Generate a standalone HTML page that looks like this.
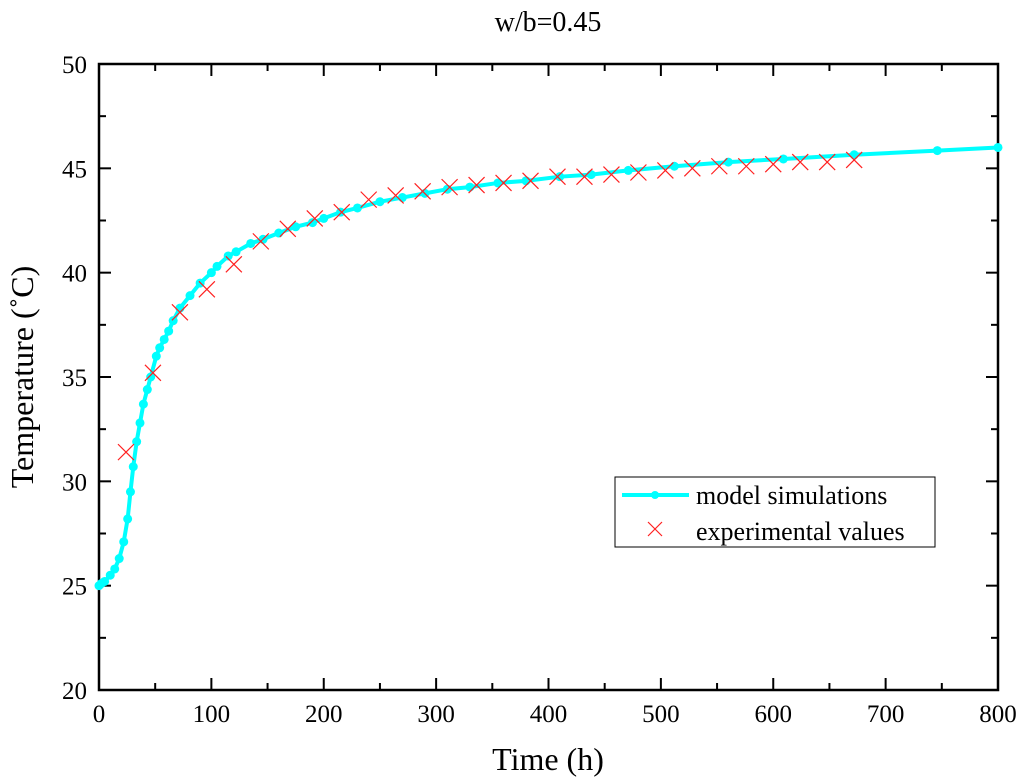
<!DOCTYPE html>
<html><head><meta charset="utf-8"><style>
body{margin:0;background:#fff}
svg{display:block;font-family:"Liberation Serif",serif}
</style></head><body>
<svg id="chart" width="1024" height="782" viewBox="0 0 1024 782">
<text x="548" y="31" font-size="28" text-anchor="middle">w/b=0.45</text>
<g id="axes"></g>
<g id="series"></g>
<g>
<rect x="615" y="477" width="320" height="70" fill="#fff" stroke="#000" stroke-width="1"/>
<g>
<line x1="622" y1="495" x2="689" y2="495" stroke="#00ffff" stroke-width="4"/>
<circle cx="655" cy="495" r="4" fill="#00ffff"/>
<text x="696" y="504" font-size="26">model simulations</text></g>
<g>
<path d="M648,522 L662,536 M662,522 L648,536" stroke="#ff2020" stroke-width="1.2"/>
<text x="696" y="540" font-size="26">experimental values</text></g>
</g>
<text x="548" y="770" font-size="32" text-anchor="middle">Time (h)</text>
<text transform="translate(33,377) rotate(-90)" font-size="32" text-anchor="middle">Temperature (˚C)</text>
</svg>
<script>
const modelTime=[0,2,5,10,14,18,22,25.5,28,30.5,33.5,36.5,39.5,43,46,51,54,58,62,66,72,81,90,100,105,115,122,135,146,160,175,190,200,215,230,250,270,290,310,330,355,380,410,438,471,512,560,609,672,746,800];
const modelTemp=[25,25.1,25.2,25.5,25.8,26.3,27.1,28.2,29.5,30.7,31.9,32.8,33.7,34.4,35.0,36.0,36.4,36.8,37.2,37.7,38.3,38.9,39.5,40.0,40.3,40.8,41.0,41.4,41.6,41.9,42.2,42.4,42.6,42.9,43.1,43.4,43.6,43.8,44.0,44.1,44.3,44.4,44.6,44.7,44.9,45.1,45.3,45.45,45.65,45.85,46.0];
const expTime=[24,48,72,96,120,144,168,192,216,240,264,288,312,336,360,384,408,432,456,480,504,528,552,576,600,624,648,672];
const expTemp=[31.4,35.2,38.1,39.2,40.4,41.5,42.1,42.6,42.9,43.5,43.7,43.9,44.1,44.2,44.3,44.4,44.6,44.6,44.7,44.8,44.9,45.0,45.1,45.1,45.2,45.3,45.3,45.4];
const xTicks=[0,100,200,300,400,500,600,700,800];
const yTicks=[20,25,30,35,40,45,50];
const NS="http://www.w3.org/2000/svg";
const X0=99,X1=998,Y0=690,Y1=64;
const sx=v=>X0+(v-0)/800*(X1-X0);
const sy=v=>Y0-(v-20)/30*(Y0-Y1);
function mk(t,a,p){const e=document.createElementNS(NS,t);for(const k in a)e.setAttribute(k,a[k]);p.appendChild(e);return e;}
const ax=document.getElementById('axes'),se=document.getElementById('series');
const frame=mk('rect',{x:X0,y:Y1,width:X1-X0,height:Y0-Y1,fill:'none',stroke:'#000','stroke-width':2.5},ax);


for(let v=0;v<=800;v+=50){const maj=v%100===0,L=maj?12:7;const x=sx(v);
mk('line',{x1:x,y1:Y0,x2:x,y2:Y0-L,stroke:'#000','stroke-width':2},ax);
mk('line',{x1:x,y1:Y1,x2:x,y2:Y1+L,stroke:'#000','stroke-width':2},ax);}
for(let v=20;v<=50;v+=2.5){const maj=v%5===0,L=maj?12:7;const y=sy(v);
mk('line',{x1:X0,y1:y,x2:X0+L,y2:y,stroke:'#000','stroke-width':2},ax);
mk('line',{x1:X1,y1:y,x2:X1-L,y2:y,stroke:'#000','stroke-width':2},ax);}
xTicks.forEach(v=>{const t=mk('text',{x:sx(v),y:Y0+32,'font-size':25,'text-anchor':'middle'},ax);t.textContent=v;

});
yTicks.forEach(v=>{const t=mk('text',{x:X0-12,y:sy(v)+9,'font-size':25,'text-anchor':'end'},ax);t.textContent=v;

});
const pl=mk('polyline',{points:modelTime.map((t,i)=>sx(t)+','+sy(modelTemp[i])).join(' '),fill:'none',stroke:'#00ffff','stroke-width':4},se);


modelTime.forEach((t,i)=>{const c=mk('circle',{cx:sx(t),cy:sy(modelTemp[i]),r:4.5,fill:'#00ffff'},se);

});
expTime.forEach((t,i)=>{const x=sx(t),y=sy(expTemp[i]);const p=mk('path',{d:`M${x-8},${y-8}L${x+8},${y+8}M${x+8},${y-8}L${x-8},${y+8}`,stroke:'#ff2020','stroke-width':1.2,fill:'none'},se);

});
</script>
</body></html>
